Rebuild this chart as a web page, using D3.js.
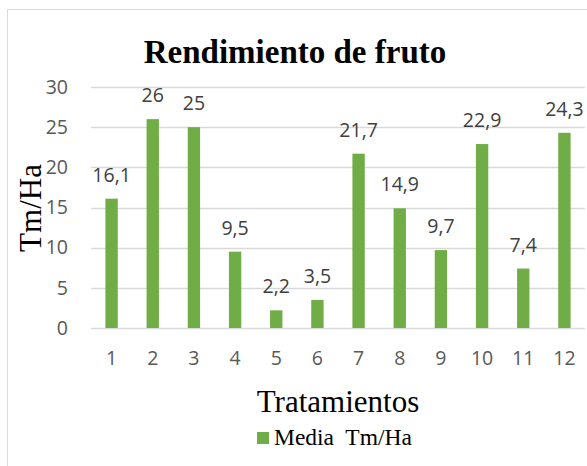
<!DOCTYPE html>
<html>
<head>
<meta charset="utf-8">
<script src="https://cdn.jsdelivr.net/npm/d3@7"></script>
<style>
  body { margin: 0; background: #fff; }
</style>
</head>
<body>
<div id="chart"></div>
<script>
// data
const categories = ["1", "2", "3", "4", "5", "6", "7", "8", "9", "10", "11", "12"];
const values = [16.1, 26, 25, 9.5, 2.2, 3.5, 21.7, 14.9, 9.7, 22.9, 7.4, 24.3];
const yTicks = [0, 5, 10, 15, 20, 25, 30];
const seriesName = "Media  Tm/Ha";

var width = 587,
  height = 466;

var serif = "'Liberation Serif', 'Times New Roman', serif";
var sans = "'Open Sans', sans-serif";

var svg = d3.select("#chart")
  .append("svg")
  .attr("width", width)
  .attr("height", height)
  .style("display", "block");

// chart border (top and left visible, rest cropped)
svg.append("path")
  .attr("d", "M7.5,466 V9.5 H587")
  .attr("fill", "none")
  .attr("stroke", "#d9d9d9")
  .attr("stroke-width", 1);

var x = d3.scaleBand()
  .domain(categories)
  .range([91, 585])
  .paddingInner(0.7)
  .paddingOuter(0.35);

var y = d3.scaleLinear()
  .domain([0, 30])
  .range([328, 87]);

// gridlines
svg.append("g")
  .selectAll("line")
  .data(yTicks)
  .enter()
  .append("line")
  .attr("x1", 91)
  .attr("x2", 585)
  .attr("y1", d => Math.round(y(d)) + 0.5)
  .attr("y2", d => Math.round(y(d)) + 0.5)
  .attr("stroke", "#d9d9d9")
  .attr("stroke-width", 1.5);

// y axis labels
var yAxis = svg.append("g")
  .attr("transform", "translate(68,0)")
  .call(d3.axisLeft(y).tickValues(yTicks).tickSize(0).tickPadding(0));
yAxis.select(".domain").remove();
yAxis.selectAll("text")
  .style("font-family", sans)
  .style("font-size", "19.5px")
  .attr("fill", "#595959");

// x axis labels
var xAxis = svg.append("g")
  .attr("transform", "translate(0,351)")
  .call(d3.axisBottom(x).tickSize(0).tickPadding(0));
xAxis.select(".domain").remove();
xAxis.selectAll("text")
  .style("font-family", sans)
  .style("font-size", "19.5px")
  .attr("fill", "#595959");

// bars
svg.append("g")
  .selectAll("rect")
  .data(values)
  .enter()
  .append("rect")
  .attr("x", (d, i) => x(categories[i]))
  .attr("width", x.bandwidth())
  .attr("y", d => y(d))
  .attr("height", d => y(0) - y(d))
  .attr("fill", "#70ad47");

// data labels
svg.append("g")
  .selectAll("text")
  .data(values)
  .enter()
  .append("text")
  .attr("x", (d, i) => x(categories[i]) + x.bandwidth() / 2)
  .attr("y", d => y(d) - 17)
  .attr("text-anchor", "middle")
  .style("font-family", sans)
  .style("font-size", "19.5px")
  .attr("fill", "#404040")
  .text(d => String(d).replace(".", ","));

// title
svg.append("text")
  .attr("x", 295)
  .attr("y", 63)
  .attr("text-anchor", "middle")
  .style("font-family", serif)
  .style("font-weight", "bold")
  .style("font-size", "33px")
  .attr("fill", "#000")
  .text("Rendimiento de fruto");

// y axis title
svg.append("text")
  .attr("transform", "translate(41,208) rotate(-90)")
  .attr("text-anchor", "middle")
  .style("font-family", serif)
  .style("font-size", "31px")
  .attr("fill", "#000")
  .text("Tm/Ha");

// x axis title
svg.append("text")
  .attr("x", 338)
  .attr("y", 412)
  .attr("text-anchor", "middle")
  .style("font-family", serif)
  .style("font-size", "31px")
  .attr("fill", "#000")
  .text("Tratamientos");

// legend
var legend = svg.append("g");
legend.append("rect")
  .attr("x", 257)
  .attr("y", 432)
  .attr("width", 12)
  .attr("height", 12)
  .attr("fill", "#70ad47");
legend.append("text")
  .attr("x", 274)
  .attr("y", 445)
  .style("font-family", serif)
  .style("font-size", "23.5px")
  .style("white-space", "pre")
  .attr("fill", "#000")
  .text(seriesName);
</script>
</body>
</html>
